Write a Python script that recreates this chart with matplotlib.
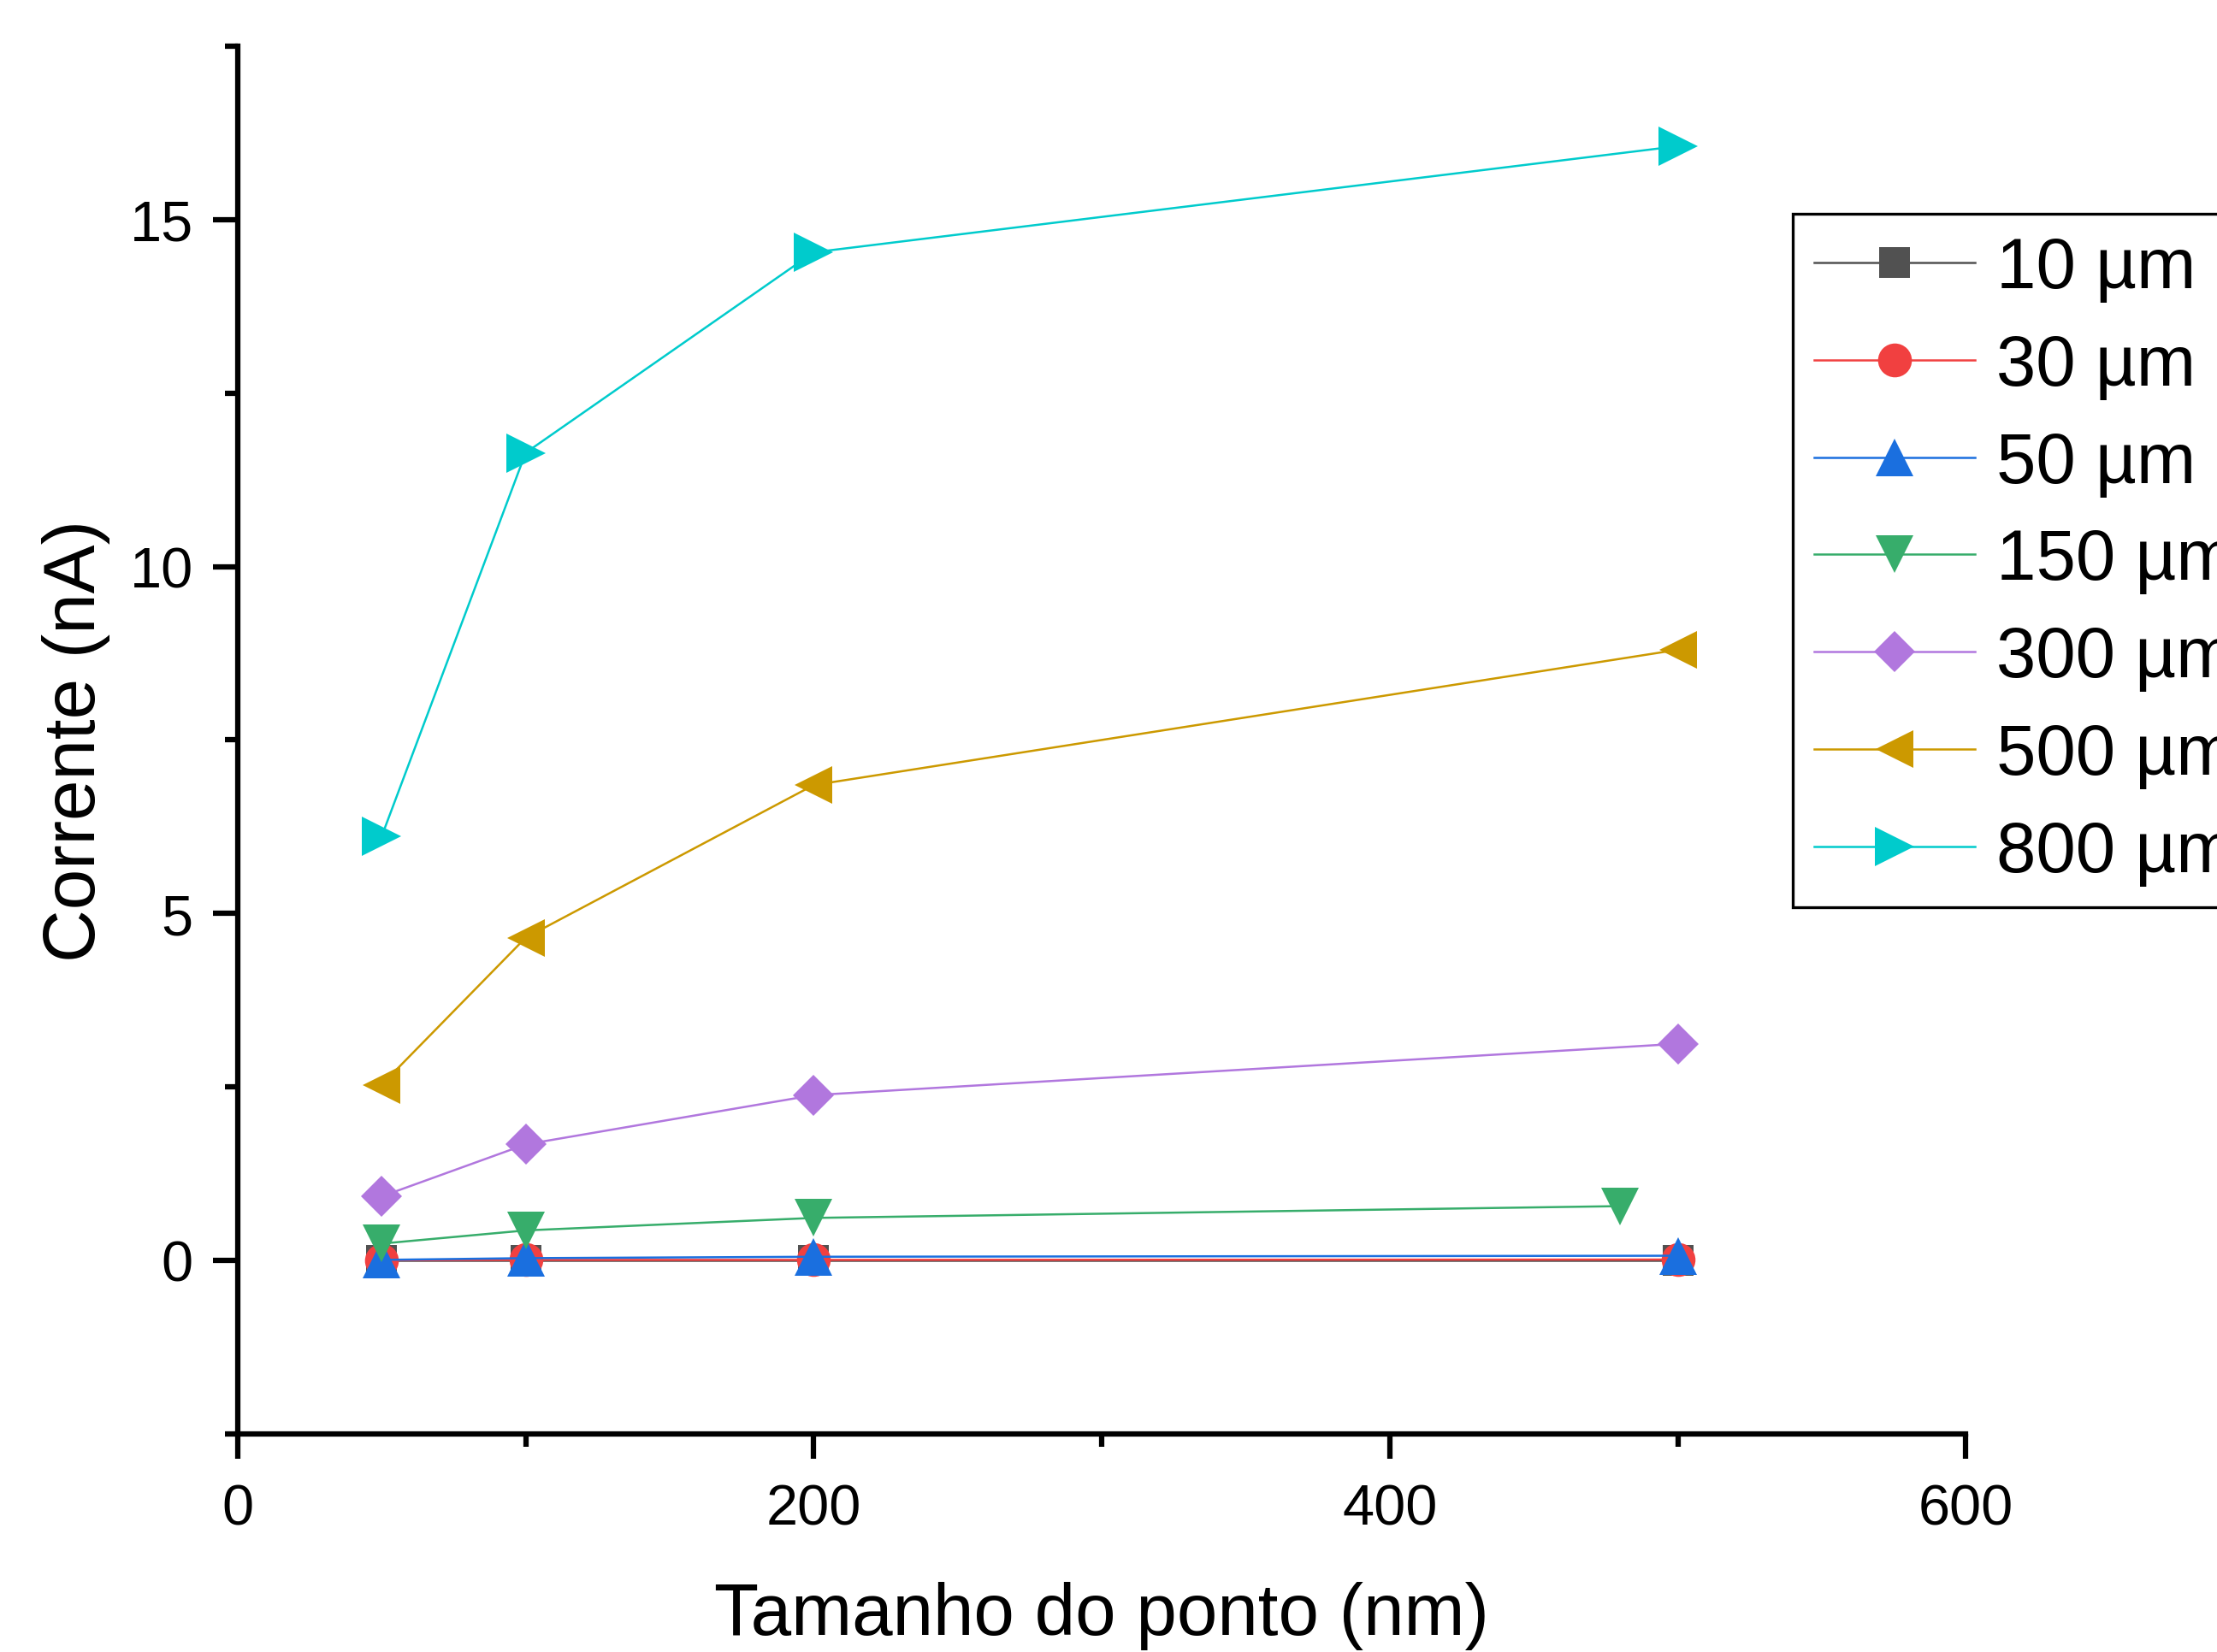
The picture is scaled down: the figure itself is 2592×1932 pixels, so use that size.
import numpy as np
import matplotlib
matplotlib.use('Agg')
import matplotlib.pyplot as plt

plt.rcParams['font.family'] = ['Liberation Sans', 'DejaVu Sans']

# >>> data
x_size = [50, 100, 200, 500]
x_size_150 = [50, 100, 200, 480]
i_10um = [0.0, 0.0, 0.0, 0.0]
i_30um = [0.0, 0.005, 0.005, 0.01]
i_50um = [0.005, 0.03, 0.05, 0.065]
i_150um = [0.24, 0.43, 0.61, 0.78]
i_300um = [0.92, 1.67, 2.38, 3.12]
i_500um = [2.53, 4.65, 6.85, 8.80]
i_800um = [6.11, 11.64, 14.53, 16.06]

labels = ['10 µm', '30 µm', '50 µm', '150 µm', '300 µm', '500 µm', '800 µm']

series = [
    (x_size, i_10um, '#515151', 's', 8.5),
    (x_size, i_30um, '#F14040', 'o', 9.5),
    (x_size, i_50um, '#1A6FDF', '^', 10.5),
    (x_size_150, i_150um, '#37AD6B', 'v', 10.5),
    (x_size, i_300um, '#B177DE', 'D', 8.0),
    (x_size, i_500um, '#CC9900', '<', 10.5),
    (x_size, i_800um, '#00CBCC', '>', 11.0),
]

fig = plt.figure(figsize=(8.64, 6.4433), dpi=300)
ax = fig.add_axes([0.1072, 0.1321, 0.7795, 0.8394])

for (xs, ys, c, m, ms), lab in zip(series, labels):
    ax.plot(xs, ys, color=c, lw=0.6, marker=m, ms=ms, mec=c, mew=0, label=lab)

ax.set_xlim(0, 600)
ax.set_ylim(-2.5, 17.5)
ax.set_xticks([0, 200, 400, 600])
ax.set_xticks([100, 300, 500], minor=True)
ax.set_yticks([0, 5, 10, 15])
ax.set_yticks([-2.5, 2.5, 7.5, 12.5, 17.5], minor=True)

ax.spines['top'].set_visible(False)
ax.spines['right'].set_visible(False)
for s in ['left', 'bottom']:
    ax.spines[s].set_linewidth(1.5)
ax.tick_params(which='major', direction='out', length=7, width=1.5, labelsize=16)
ax.tick_params(axis='x', which='major', pad=7)
ax.tick_params(axis='y', which='major', pad=5.5)
ax.tick_params(which='minor', direction='out', length=3.5, width=1.5)

ax.set_xlabel('Tamanho do ponto (nm)', fontsize=20.5, labelpad=12.5)
ax.set_ylabel('Corrente (nA)', fontsize=20.5, labelpad=5.5)

leg = ax.legend(loc='upper left', bbox_to_anchor=(2096 / 2592, 1 - 251 / 1933),
                bbox_transform=fig.transFigure, borderaxespad=0, fontsize=20,
                handlelength=2.25, handletextpad=0.3, labelspacing=0.43,
                borderpad=0.3, fancybox=False, framealpha=1, edgecolor='black')
leg.get_frame().set_linewidth(0.8)

fig.savefig('out.png', dpi=300)
